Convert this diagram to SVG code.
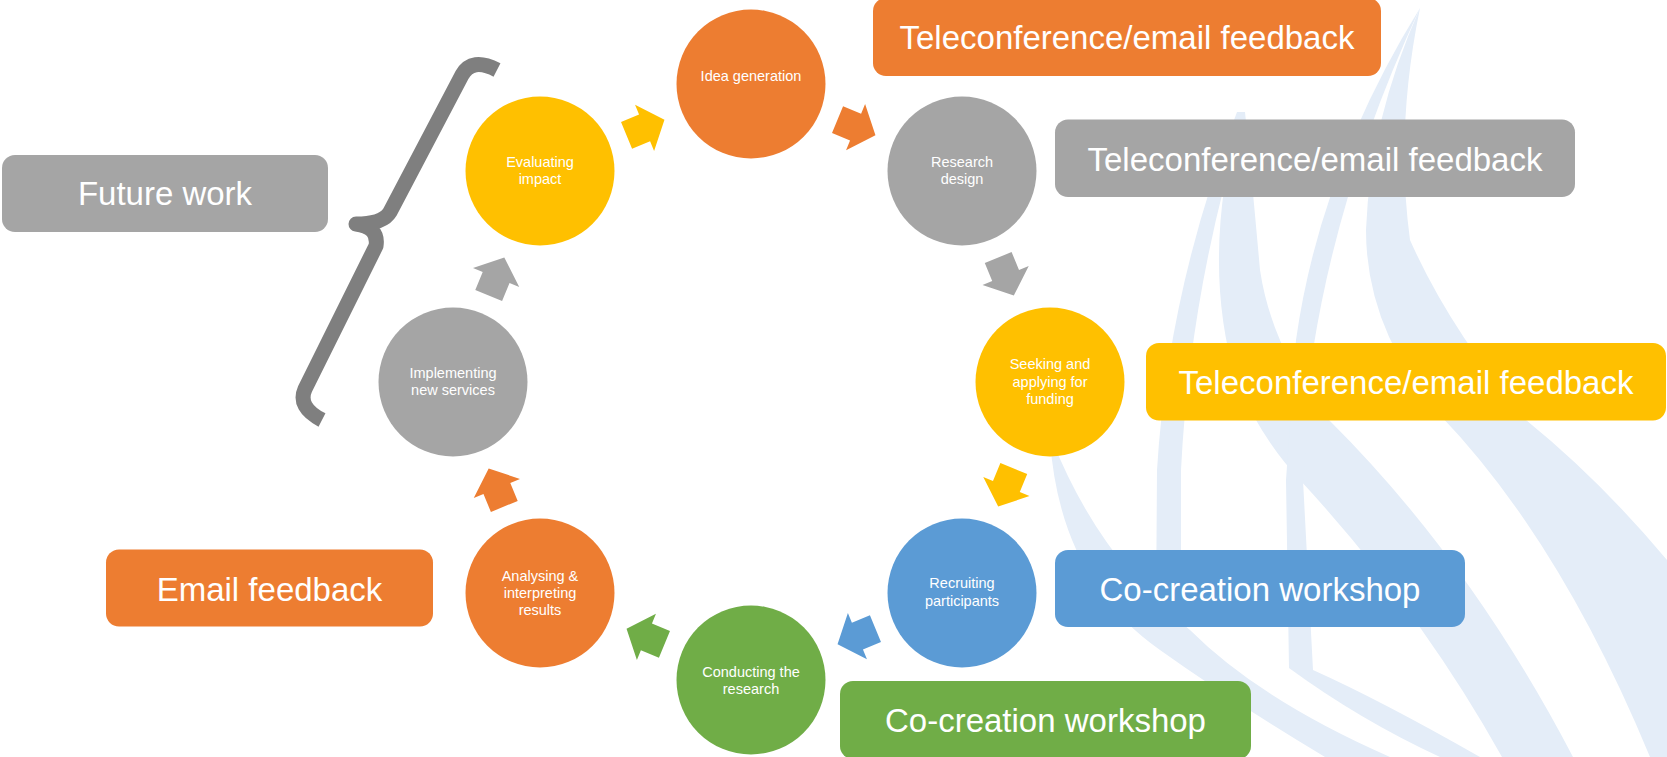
<svg xmlns="http://www.w3.org/2000/svg" width="1667" height="757" viewBox="0 0 1667 757">
  <defs>
    <style>
      .lbl { font-family: "Liberation Sans", Arial, sans-serif; font-size: 33px; fill: #ffffff; text-anchor: middle; }
      .stp { font-family: "Liberation Sans", Arial, sans-serif; font-size: 14.5px; fill: #ffffff; text-anchor: middle; }
      .wm { fill: #E4EDF8; }
      .orange { fill: #ED7D31; }
      .grey { fill: #A5A5A5; }
      .yellow { fill: #FFC000; }
      .blue { fill: #5B9BD5; }
      .green { fill: #70AD47; }
    </style>
    <!-- block arrow pointing along +x, centred on the origin -->
    <path id="blk" d="M-20.5,-14.5 H-1 V-25 L20.5,0 L-1,25 V14.5 H-20.5 Z"/>
  </defs>

  <rect width="1667" height="757" fill="#ffffff"/>

  <!-- faint background emblem: flame-like sweeps -->
  <g id="emblem">
    <path class="wm" d="M1237,112 Q1168,290 1157,470 L1156,615 L1181,615 L1181,470 Q1190,290 1245,112 Z"/>
    <path class="wm" d="M1240,112 Q1200,260 1236,380 Q1262,440 1300,480 Q1420,610 1502,757 L1573,757 Q1470,560 1329,420 Q1272,350 1260,270 Q1252,180 1245,112 Z"/>
    <path class="wm" d="M1420,8 Q1320,170 1296,340 L1286,480 L1289,668 Q1360,720 1440,757 L1480,757 Q1380,700 1313,670 L1303,480 L1313,350 Q1340,180 1420,8 Z"/>
    <path class="wm" d="M1420,8 Q1370,120 1366,230 Q1366,330 1440,415 Q1560,540 1650,757 L1667,757 L1667,560 Q1600,480 1526,420 Q1450,330 1410,240 Q1395,130 1420,8 Z"/>
    <path class="wm" d="M1050,440 Q1060,580 1160,650 Q1230,700 1325,757 L1390,757 Q1260,700 1190,630 Q1100,560 1052,440 Z"/>
  </g>

  <!-- connectors between the stages -->
  <g id="connectors">
    <use href="#blk" class="yellow" transform="translate(645.5,127.5) rotate(-22.4)"/>
    <use href="#blk" class="orange" transform="translate(856.5,127.5) rotate(22.4)"/>
    <use href="#blk" class="grey" transform="translate(1006,276.5) rotate(67.6)"/>
    <use href="#blk" class="yellow" transform="translate(1006,487.5) rotate(112.4)"/>
    <use href="#blk" class="blue" transform="translate(856.5,636.5) rotate(157.6)"/>
    <use href="#blk" class="green" transform="translate(645.5,636.5) rotate(-157.6)"/>
    <use href="#blk" class="orange" transform="translate(496.5,487.5) rotate(-112.4)"/>
    <use href="#blk" class="grey" transform="translate(496.5,276.5) rotate(-67.6)"/>
  </g>

  <!-- cycle stages -->
  <g id="idea-generation">
    <circle class="orange" cx="751" cy="84" r="74.5"/>
    <text class="stp" x="751" y="81">Idea generation</text>
  </g>
  <g id="research-design">
    <circle class="grey" cx="962" cy="171" r="74.5"/>
    <text class="stp" x="962" y="167">Research</text>
    <text class="stp" x="962" y="184">design</text>
  </g>
  <g id="seeking-funding">
    <circle class="yellow" cx="1050" cy="382" r="74.5"/>
    <text class="stp" x="1050" y="369">Seeking and</text>
    <text class="stp" x="1050" y="386.5">applying for</text>
    <text class="stp" x="1050" y="403.5">funding</text>
  </g>
  <g id="recruiting-participants">
    <circle class="blue" cx="962" cy="593" r="74.5"/>
    <text class="stp" x="962" y="588">Recruiting</text>
    <text class="stp" x="962" y="605.5">participants</text>
  </g>
  <g id="conducting-research">
    <circle class="green" cx="751" cy="680" r="74.5"/>
    <text class="stp" x="751" y="676.5">Conducting the</text>
    <text class="stp" x="751" y="693.5">research</text>
  </g>
  <g id="analysing-results">
    <circle class="orange" cx="540" cy="593" r="74.5"/>
    <text class="stp" x="540" y="580.5">Analysing &amp;</text>
    <text class="stp" x="540" y="597.5">interpreting</text>
    <text class="stp" x="540" y="614.5">results</text>
  </g>
  <g id="implementing-services">
    <circle class="grey" cx="453" cy="382" r="74.5"/>
    <text class="stp" x="453" y="377.5">Implementing</text>
    <text class="stp" x="453" y="395">new services</text>
  </g>
  <g id="evaluating-impact">
    <circle class="yellow" cx="540" cy="171" r="74.5"/>
    <text class="stp" x="540" y="167">Evaluating</text>
    <text class="stp" x="540" y="184">impact</text>
  </g>

  <!-- brace grouping the last two stages -->
  <g id="future-brace">
    <path d="M497,70 Q472,57 462,75 L390,212 Q383,224 356,224 Q379,227 376,246 L305,389 Q297,407 322,420" fill="none" stroke="#7F7F7F" stroke-width="15" stroke-linejoin="round"/>
  </g>

  <!-- feedback labels -->
  <g id="label-idea">
    <rect class="orange" x="873" y="-2" width="508" height="78" rx="13"/>
    <text class="lbl" x="1127" y="49">Teleconference/email feedback</text>
  </g>
  <g id="label-design">
    <rect class="grey" x="1055" y="119.5" width="520" height="77.5" rx="13"/>
    <text class="lbl" x="1315" y="170.5">Teleconference/email feedback</text>
  </g>
  <g id="label-funding">
    <rect class="yellow" x="1146" y="343" width="520" height="77.5" rx="13"/>
    <text class="lbl" x="1406" y="394">Teleconference/email feedback</text>
  </g>
  <g id="label-recruiting">
    <rect class="blue" x="1055" y="550" width="410" height="77" rx="13"/>
    <text class="lbl" x="1260" y="601">Co-creation workshop</text>
  </g>
  <g id="label-conducting">
    <rect class="green" x="840" y="681" width="411" height="78" rx="13"/>
    <text class="lbl" x="1045.5" y="732">Co-creation workshop</text>
  </g>
  <g id="label-analysing">
    <rect class="orange" x="106" y="549.5" width="327" height="77" rx="13"/>
    <text class="lbl" x="269.5" y="601">Email feedback</text>
  </g>
  <g id="label-future">
    <rect class="grey" x="2" y="155" width="326" height="77" rx="13"/>
    <text class="lbl" x="165" y="205">Future work</text>
  </g>
</svg>
